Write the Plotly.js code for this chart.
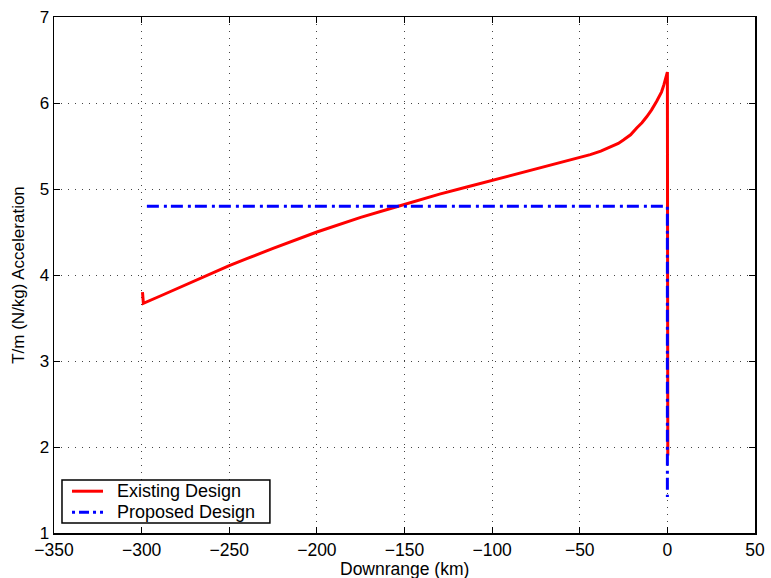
<!DOCTYPE html>
<html>
<head>
<meta charset="utf-8">
<script src="https://cdn.plot.ly/plotly-3.0.1.min.js"></script>
<style>html,body{margin:0;padding:0;background:#fff;}#chart{width:771px;height:578px;}</style>
</head>
<body>
<div id="chart"></div>
<script>
// Existing Design (red)
const existingX = [-299.5, -299, -290, -280, -270, -260, -250, -240, -225, -200, -175, -155, -130, -115, -100, -80, -65, -55, -44, -38, -32.7, -28, -25.1, -21, -17.5, -14.5, -11.8, -9, -6.1, -4.5, -3.3, -2.0, -0.8, 0.0, 0.25];
const existingY = [3.80, 3.67, 3.75, 3.84, 3.93, 4.02, 4.11, 4.19, 4.31, 4.50, 4.67, 4.79, 4.94, 5.02, 5.10, 5.20, 5.28, 5.335, 5.40, 5.44, 5.485, 5.53, 5.57, 5.63, 5.71, 5.77, 5.84, 5.92, 6.02, 6.08, 6.13, 6.21, 6.31, 6.36, 1.90];
// Proposed Design (blue)
const proposedX = [-297, 0, 0];
const proposedY = [4.80, 4.80, 1.42];

const xTicks = [-350, -300, -250, -200, -150, -100, -50, 0, 50];
const yTicks = [1, 2, 3, 4, 5, 6, 7];
const seriesNames = ['Existing Design', 'Proposed Design'];
const xTitle = 'Downrange (km)';
const yTitle = 'T/m (N/kg) Acceleration';

const fam = 'Liberation Sans, Arial, Helvetica, sans-serif';
const fontX = {family: fam, size: 17.5, color: '#000'};
const fontY = {family: fam, size: 17, color: '#000'};

const red = '#ff0000', blue = '#0000ff', blueDash = '12px,5px,3px,4px';

const traces = [
  {x: existingX, y: existingY, mode: 'lines', name: seriesNames[0],
   line: {color: red, width: 3}},
  {x: proposedX, y: proposedY, mode: 'lines', name: seriesNames[1],
   line: {color: blue, width: 3, dash: blueDash}}
];

const axisCommon = {
  showline: true, mirror: 'ticks', linecolor: '#000', linewidth: 1.5,
  ticks: 'inside', ticklen: 6, tickcolor: '#000',
  showgrid: true, gridcolor: '#444', griddash: '1px,6px', gridwidth: 1,
  zeroline: false
};

// legend box drawn in paper coordinates
const lg = {x0: 0.0114, x1: 0.308, y0: 0.0194, y1: 0.1027, lx0: 0.0257, lx1: 0.0699, tx: 0.087, r1: 0.081, r2: 0.040};

const layout = {
  width: 771, height: 578,
  margin: {l: 54, r: 16, t: 17, b: 45},
  paper_bgcolor: '#fff', plot_bgcolor: '#fff',
  font: fontY,
  showlegend: false,
  xaxis: Object.assign({}, axisCommon, {
    range: [-350, 50], tickvals: xTicks, tickfont: fontX,
    ticktext: xTicks.map(v => v < 0 ? '\u2212' + Math.abs(v) : String(v))
  }),
  yaxis: Object.assign({}, axisCommon, {
    range: [1, 7], tickvals: yTicks, tickfont: fontY,
    title: {text: yTitle, font: fontY, standoff: 10}
  }),
  shapes: [
    {type: 'rect', xref: 'paper', yref: 'paper', x0: lg.x0, x1: lg.x1, y0: lg.y0, y1: lg.y1,
     fillcolor: '#fff', line: {color: '#000', width: 1.5}, layer: 'above'},
    {type: 'line', xref: 'paper', yref: 'paper', x0: lg.lx0, x1: lg.lx1, y0: lg.r1, y1: lg.r1,
     line: {color: red, width: 3}, layer: 'above'},
    {type: 'line', xref: 'paper', yref: 'paper', x0: lg.lx0, x1: lg.lx1, y0: lg.r2, y1: lg.r2,
     line: {color: blue, width: 3, dash: '3px,4px,10px,4px'}, layer: 'above'}
  ],
  annotations: [
    {xref: 'paper', yref: 'paper', x: lg.tx, y: lg.r1, xanchor: 'left', yanchor: 'middle',
     text: seriesNames[0], showarrow: false, font: {family: fam, size: 18, color: '#000'}},
    {xref: 'paper', yref: 'paper', x: lg.tx, y: lg.r2, xanchor: 'left', yanchor: 'middle',
     text: seriesNames[1], showarrow: false, font: {family: fam, size: 18, color: '#000'}},
    {xref: 'paper', yref: 'paper', x: 0.5, y: -0.0705, xanchor: 'center', yanchor: 'middle',
     text: xTitle, showarrow: false, font: fontX}
  ]
};

Plotly.newPlot('chart', traces, layout, {displayModeBar: false, staticPlot: true});
</script>
</body>
</html>
